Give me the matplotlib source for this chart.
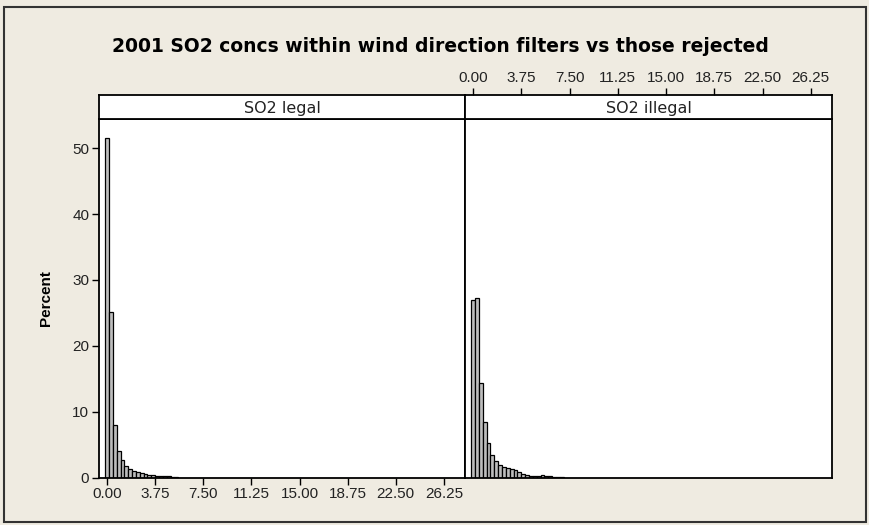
import numpy as np
import matplotlib
matplotlib.use("Agg")
import matplotlib.pyplot as plt
from matplotlib.patches import Rectangle

# histogram bins (percent per 0.3 wide bin, starting at 0)
bin_width = 0.3
legal_pct = [51.5, 25.2, 7.9, 4.0, 2.7, 1.8, 1.3, 1.0, 0.85, 0.7,
             0.55, 0.45, 0.35, 0.3, 0.25, 0.2, 0.2, 0.15, 0.15]
illegal_pct = [26.9, 27.2, 14.4, 8.5, 5.3, 3.4, 2.55, 1.9, 1.65, 1.4,
               1.25, 1.15, 0.9, 0.5, 0.4, 0.3, 0.3, 0.3, 0.45, 0.2,
               0.2, 0.15, 0.15, 0.15]
panels = ["SO2 legal", "SO2 illegal"]
xticks = [0.0, 3.75, 7.5, 11.25, 15.0, 18.75, 22.5, 26.25]
yticks = [0, 10, 20, 30, 40, 50]

bg = "#efebe1"
barcol = "#bdbdbd"
W, H = 870, 525

plt.rcParams['font.family'] = ['Liberation Sans', 'DejaVu Sans']
fig = plt.figure(figsize=(W / 100, H / 100), dpi=100, facecolor=bg)

def box(x0, y0, x1, y1):
    # pixel coords from the top-left corner -> figure fraction
    return [x0 / W, 1 - y1 / H, (x1 - x0) / W, (y1 - y0) / H]

xlim = (-0.63, 27.9)
ylim = (0, 54.45)
tick_size = 11

data = [legal_pct, illegal_pct]
edges = [(99, 465), (465, 832)]
for i, (name, vals) in enumerate(zip(panels, data)):
    x0, x1 = edges[i]
    ax = fig.add_axes(box(x0, 119, x1, 477.5))
    ax.set_facecolor("white")
    centers = np.arange(len(vals)) * bin_width
    ax.bar(centers, vals, width=bin_width, color=barcol,
           edgecolor="black", linewidth=0.9)
    ax.set_xlim(*xlim)
    ax.set_ylim(*ylim)
    for s in ax.spines.values():
        s.set_linewidth(1.3)
    ax.tick_params(direction="out", length=5, width=1, labelsize=tick_size,
                   pad=2, colors="black", labelcolor="#222222")
    ax.set_yticks(yticks)
    ax.set_xticks(xticks)
    if i == 0:
        ax.set_xticklabels(["%.2f" % t for t in xticks])
        ax.set_ylabel("Percent", fontsize=11, fontweight="bold", labelpad=14)
    else:
        ax.tick_params(left=False, labelleft=False, bottom=False,
                       labelbottom=False)

    # panel strip with the group name
    st = fig.add_axes(box(x0, 95, x1, 119))
    st.set_facecolor("white")
    st.set_xlim(*xlim)
    st.set_yticks([])
    for s in st.spines.values():
        s.set_linewidth(1.3)
    st.text(0.5, 0.45, name, transform=st.transAxes, ha="center",
            va="center", fontsize=11.5, family="DejaVu Sans",
            color="#222222")
    if i == 1:
        st.set_xticks(xticks)
        st.set_xticklabels(["%.2f" % t for t in xticks])
        st.tick_params(axis="x", top=True, labeltop=True, bottom=False,
                       labelbottom=False, direction="out", length=5,
                       width=1, labelsize=tick_size, pad=2,
                       labelcolor="#222222")
    else:
        st.set_xticks([])

fig.text(440 / W, 1 - 47 / H,
         "2001 SO2 concs within wind direction filters vs those rejected",
         ha="center", va="center", fontsize=13.5, fontweight="bold",
         family="DejaVu Sans")

# outer frame
fig.patches.append(Rectangle((4 / W, 1 - 522 / H), 862 / W, 515 / H,
                             transform=fig.transFigure, fill=False,
                             edgecolor="#333333", linewidth=1.5))

fig.savefig("out.png", dpi=100, facecolor=bg)
